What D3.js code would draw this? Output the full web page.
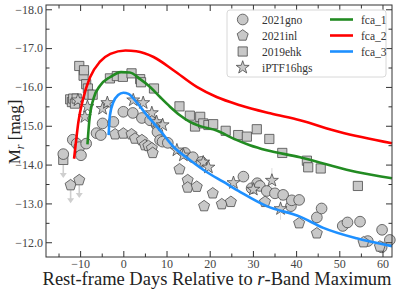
<!DOCTYPE html>
<html>
<head>
<meta charset="utf-8">
<script src="https://cdn.jsdelivr.net/npm/d3@7"></script>
<style>
  body { margin: 0; background: #fff; }
  svg text { font-family: "Liberation Serif", "DejaVu Serif", serif; }
</style>
</head>
<body>
<svg id="chart" width="399" height="292"></svg>
<script>
// ---- data: [rest-frame day, M_r] ----
var gno = [[-13.9,-14.27],[-11.7,-14.64],[-10.8,-14.54],[-10.2,-14.45],[-9.8,-14.24],[-8.6,-14.54],
  [-6.2,-14.81],[-5.2,-14.76],[-4.8,-15.06],[-2.3,-15.10],[0.0,-15.36],[2.2,-15.33],[4.3,-15.20],
  [6.2,-15.14],[7.7,-15.02],[7.9,-14.84],[8.5,-14.63],[9.1,-14.59],[10.3,-14.56],[14.3,-14.30],
  [16.1,-14.19],[18.1,-14.07],[27.8,-13.69],[29.7,-13.39],[31.0,-13.52],[31.6,-13.45],[33.2,-13.32],
  [35.1,-13.26],[37.0,-13.22],[38.8,-12.93],[39.0,-13.08],[40.7,-13.09],[44.8,-12.64],[45.9,-12.87],
  [50.8,-12.42],[51.9,-12.51],[54.8,-12.53],[56.6,-12.03],[59.8,-11.87],[59.9,-12.32],[61.7,-12.06]];
var inl = [[-12.2,-13.47],[-10.2,-13.60],[-1.9,-14.78],[0.0,-14.80],[1.9,-14.78],[2.7,-14.67],
  [4.3,-14.63],[5.0,-14.50],[5.8,-14.48],[6.6,-14.42],[6.8,-14.30],[13.0,-13.88],[14.9,-13.60],
  [14.9,-13.41],[17.0,-13.43],[18.7,-12.93],[20.7,-13.26],[22.8,-12.98],[24.9,-13.04],[32.8,-13.04],
  [40.7,-12.49],[44.8,-12.23],[55.6,-12.00],[59.4,-11.89]];
var ehk = [[-13.9,-14.12],[-12.3,-15.68],[-11.9,-15.61],[-11.6,-15.70],[-11.2,-15.57],[-10.8,-15.70],
  [-10.2,-16.54],[-9.2,-16.29],[-9.1,-16.43],[-8.6,-16.07],[-8.2,-15.96],[-7.9,-15.80],[-7.1,-15.80],
  [-3.1,-16.22],[-1.5,-16.28],[-0.1,-16.26],[1.9,-16.35],[3.9,-16.20],[4.1,-16.12],[7.1,-15.96],
  [13.0,-15.50],[15.4,-15.26],[16.6,-14.98],[17.8,-15.23],[18.5,-15.06],[19.7,-15.02],[20.8,-15.04],
  [23.7,-14.87],[26.6,-14.76],[28.6,-14.72],[30.9,-14.91],[33.8,-14.66],[36.8,-14.30],[42.5,-14.10],
  [42.8,-13.93],[45.7,-13.90],[54.3,-13.45]];
var hgs = [[-10.5,-15.66],[-8.9,-15.23],[-8.3,-15.49],[-4.8,-15.44],[-3.7,-15.59],[2.3,-15.66],
  [4.6,-15.59],[6.6,-15.33],[7.7,-15.10],[9.1,-15.02],[12.4,-14.37],[13.9,-14.24],[18.5,-14.06],
  [19.7,-13.93],[25.5,-13.53],[30.1,-13.36],[34.4,-13.59],[36.4,-12.86]];
var hgsErr = [[34.4,-13.59,0.32],[36.4,-12.86,0.28]];
var limits = [[-13.9,-14.12],[-12.2,-13.47],[-10.2,-13.60]];

var fca1 = [[-8.3,-14.52],[-7.9,-15.10],[-6.9,-15.70],[-5.4,-16.03],[-3.1,-16.25],[-0.5,-16.38],
  [1.5,-16.37],[3.9,-16.20],[6.2,-16.00],[8.5,-15.74],[10.8,-15.49],[13.1,-15.27],[15.4,-15.10],
  [17.8,-14.99],[21.6,-14.88],[25.5,-14.67],[29.3,-14.50],[33.2,-14.37],[40.9,-14.19],[46.3,-14.03],
  [54.0,-13.81],[62.2,-13.65]];
var fca2 = [[-11.4,-14.15],[-11.0,-14.55],[-10.4,-15.10],[-9.3,-15.70],[-7.7,-16.25],[-5.4,-16.65],
  [-3.0,-16.85],[0.5,-16.94],[3.0,-16.92],[7.0,-16.77],[11.6,-16.43],[17.0,-16.00],[21.6,-15.74],
  [27.0,-15.53],[34.0,-15.32],[40.9,-15.14],[50.1,-14.84],[62.2,-14.55]];
var fca3 = [[-3.4,-14.76],[-3.1,-15.27],[-2.3,-15.61],[-1.2,-15.79],[0.0,-15.85],[1.2,-15.82],
  [3.1,-15.60],[5.4,-15.28],[8.5,-14.88],[11.6,-14.46],[15.4,-14.12],[19.3,-13.81],[23.1,-13.56],
  [27.0,-13.30],[33.2,-12.93],[40.9,-12.66],[46.3,-12.37],[54.0,-12.10],[62.2,-11.90]];

var xMajor = [-10, 0, 10, 20, 30, 40, 50, 60];
var xMinor = [-15, -5, 5, 15, 25, 35, 45, 55];
var yMajor = [-18, -17, -16, -15, -14, -13, -12];
var yMinor = [-17.5, -16.5, -15.5, -14.5, -13.5, -12.5];

var pointLabels = ["2021gno", "2021inl", "2019ehk", "iPTF16hgs"];
var lineLabels = ["fca_1", "fca_2", "fca_3"];
var lineColors = ["#228b22", "#ff0000", "#1e90ff"];

// ---- layout ----
var L = 46, R = 392, T = 5, B = 257;
var x = d3.scaleLinear().domain([-17.9, 62.2]).range([L, R]);
var y = d3.scaleLinear().domain([-11.62, -18.11]).range([B, T]);

var svg = d3.select("#chart");

// marker paths
function poly(n, r, rot) {
  var pts = [];
  for (var i = 0; i < n; i++) {
    var a = rot + i * 2 * Math.PI / n;
    pts.push([r * Math.sin(a), -r * Math.cos(a)]);
  }
  return "M" + pts.join("L") + "Z";
}
function star(ro, ri) {
  var pts = [];
  for (var i = 0; i < 10; i++) {
    var a = i * Math.PI / 5, r = i % 2 ? ri : ro;
    pts.push([r * Math.sin(a), -r * Math.cos(a)]);
  }
  return "M" + pts.join("L") + "Z";
}
var shapes = [
  d3.symbol(d3.symbolCircle, 90)(),
  poly(5, 5.8, 0),
  "M-4.6,-4.6H4.6V4.6H-4.6Z",
  star(6.8, 2.7)
];
var markFill = "#c8c8c8", markStroke = "#4a4a4a";

// upper-limit arrows
var lim = svg.append("g").attr("stroke", "#cfcfcf").attr("fill", "#cfcfcf");
limits.forEach(function(d) {
  var cx = x(d[0]), cy = y(d[1]);
  lim.append("line").attr("x1", cx).attr("x2", cx).attr("y1", cy + 5).attr("y2", cy + 14)
    .attr("stroke-width", 1.6);
  lim.append("path").attr("stroke", "none")
    .attr("d", "M" + (cx - 3.5) + "," + (cy + 13) + "L" + (cx + 3.5) + "," + (cy + 13) + "L" + cx + "," + (cy + 18) + "Z");
});

// error bars
svg.append("g").selectAll("line").data(hgsErr).enter().append("line")
  .attr("x1", function(d) { return x(d[0]); })
  .attr("x2", function(d) { return x(d[0]); })
  .attr("y1", function(d) { return y(d[1] - d[2]); })
  .attr("y2", function(d) { return y(d[1] + d[2]); })
  .attr("stroke", "#dcdcdc").attr("stroke-width", 1);

// data points
[ehk, gno, inl, hgs].forEach(function(series) {
  var k = series === gno ? 0 : series === inl ? 1 : series === ehk ? 2 : 3;
  svg.append("g").selectAll("path").data(series).enter().append("path")
    .attr("d", shapes[k])
    .attr("transform", function(d) { return "translate(" + x(d[0]) + "," + y(d[1]) + ")"; })
    .attr("fill", markFill).attr("stroke", markStroke).attr("stroke-width", 0.8);
});

// model curves
var line = d3.line()
  .x(function(d) { return x(d[0]); })
  .y(function(d) { return y(d[1]); })
  .curve(d3.curveMonotoneX);
[fca1, fca2, fca3].forEach(function(s, i) {
  svg.append("path").datum(s).attr("d", line)
    .attr("fill", "none").attr("stroke", lineColors[i]).attr("stroke-width", 2.6);
});

// frame and ticks (inward, all four sides)
function styleAxis(g) {
  g.select(".domain").remove();
  g.selectAll(".tick line").attr("stroke", "#333");
  g.selectAll("text").attr("fill", "#444").style("font-size", "12px");
}
svg.append("g").attr("transform", "translate(0," + B + ")")
  .call(d3.axisBottom(x).tickValues(xMajor).tickSize(-6).tickPadding(2)).call(styleAxis);
svg.append("g").attr("transform", "translate(0," + B + ")")
  .call(d3.axisBottom(x).tickValues(xMinor).tickSize(-3.5).tickFormat("")).call(styleAxis);
svg.append("g").attr("transform", "translate(0," + T + ")")
  .call(d3.axisTop(x).tickValues(xMajor.concat(xMinor)).tickSize(-6).tickFormat("")).call(styleAxis)
  .selectAll(".tick line").attr("y2", function(d) { return xMinor.indexOf(d) >= 0 ? 3.5 : 6; });
svg.append("g").attr("transform", "translate(" + L + ",0)")
  .call(d3.axisLeft(y).tickValues(yMajor).tickSize(-6).tickPadding(3)).call(styleAxis);
svg.append("g").attr("transform", "translate(" + L + ",0)")
  .call(d3.axisLeft(y).tickValues(yMinor).tickSize(-3.5).tickFormat("")).call(styleAxis);
svg.append("g").attr("transform", "translate(" + R + ",0)")
  .call(d3.axisRight(y).tickValues(yMajor.concat(yMinor)).tickSize(-6).tickFormat("")).call(styleAxis)
  .selectAll(".tick line").attr("x2", function(d) { return yMinor.indexOf(d) >= 0 ? -3.5 : -6; });
svg.append("rect").attr("x", L).attr("y", T).attr("width", R - L).attr("height", B - T)
  .attr("fill", "none").attr("stroke", "#333").attr("stroke-width", 1);

// axis labels
var xl = svg.append("text").attr("x", (L + R) / 2 - 2).attr("y", 285)
  .attr("text-anchor", "middle").attr("fill", "#222").style("font-size", "18.5px");
xl.append("tspan").text("Rest-frame Days Relative to ");
xl.append("tspan").attr("font-style", "italic").text("r");
xl.append("tspan").text("-Band Maximum");

var yl = svg.append("text").attr("transform", "translate(20,132) rotate(-90)")
  .attr("text-anchor", "middle").attr("fill", "#222").style("font-size", "17px");
yl.append("tspan").text("M");
yl.append("tspan").attr("font-style", "italic").attr("dy", 4).style("font-size", "12px").text("r");
yl.append("tspan").attr("dy", -4).text(" [mag]");

// legend
var lg = svg.append("g");
lg.append("rect").attr("x", 227).attr("y", 10).attr("width", 159).attr("height", 67).attr("rx", 3)
  .attr("fill", "#fff").attr("fill-opacity", 0.85).attr("stroke", "#d8d8d8");
var rowY = d3.scalePoint().domain(d3.range(4)).range([19.5, 67.5]);
pointLabels.forEach(function(t, i) {
  lg.append("path").attr("d", shapes[i])
    .attr("transform", "translate(242.7," + rowY(i) + ")")
    .attr("fill", markFill).attr("stroke", markStroke).attr("stroke-width", 0.8);
  lg.append("text").attr("x", 262).attr("y", rowY(i) + 4).attr("fill", "#333")
    .style("font-size", "11.5px").text(t);
});
lineLabels.forEach(function(t, i) {
  lg.append("line").attr("x1", 330).attr("x2", 353).attr("y1", rowY(i)).attr("y2", rowY(i))
    .attr("stroke", lineColors[i]).attr("stroke-width", 2.6);
  lg.append("text").attr("x", 361).attr("y", rowY(i) + 4).attr("fill", "#333")
    .style("font-size", "11.5px").text(t);
});
</script>
</body>
</html>
